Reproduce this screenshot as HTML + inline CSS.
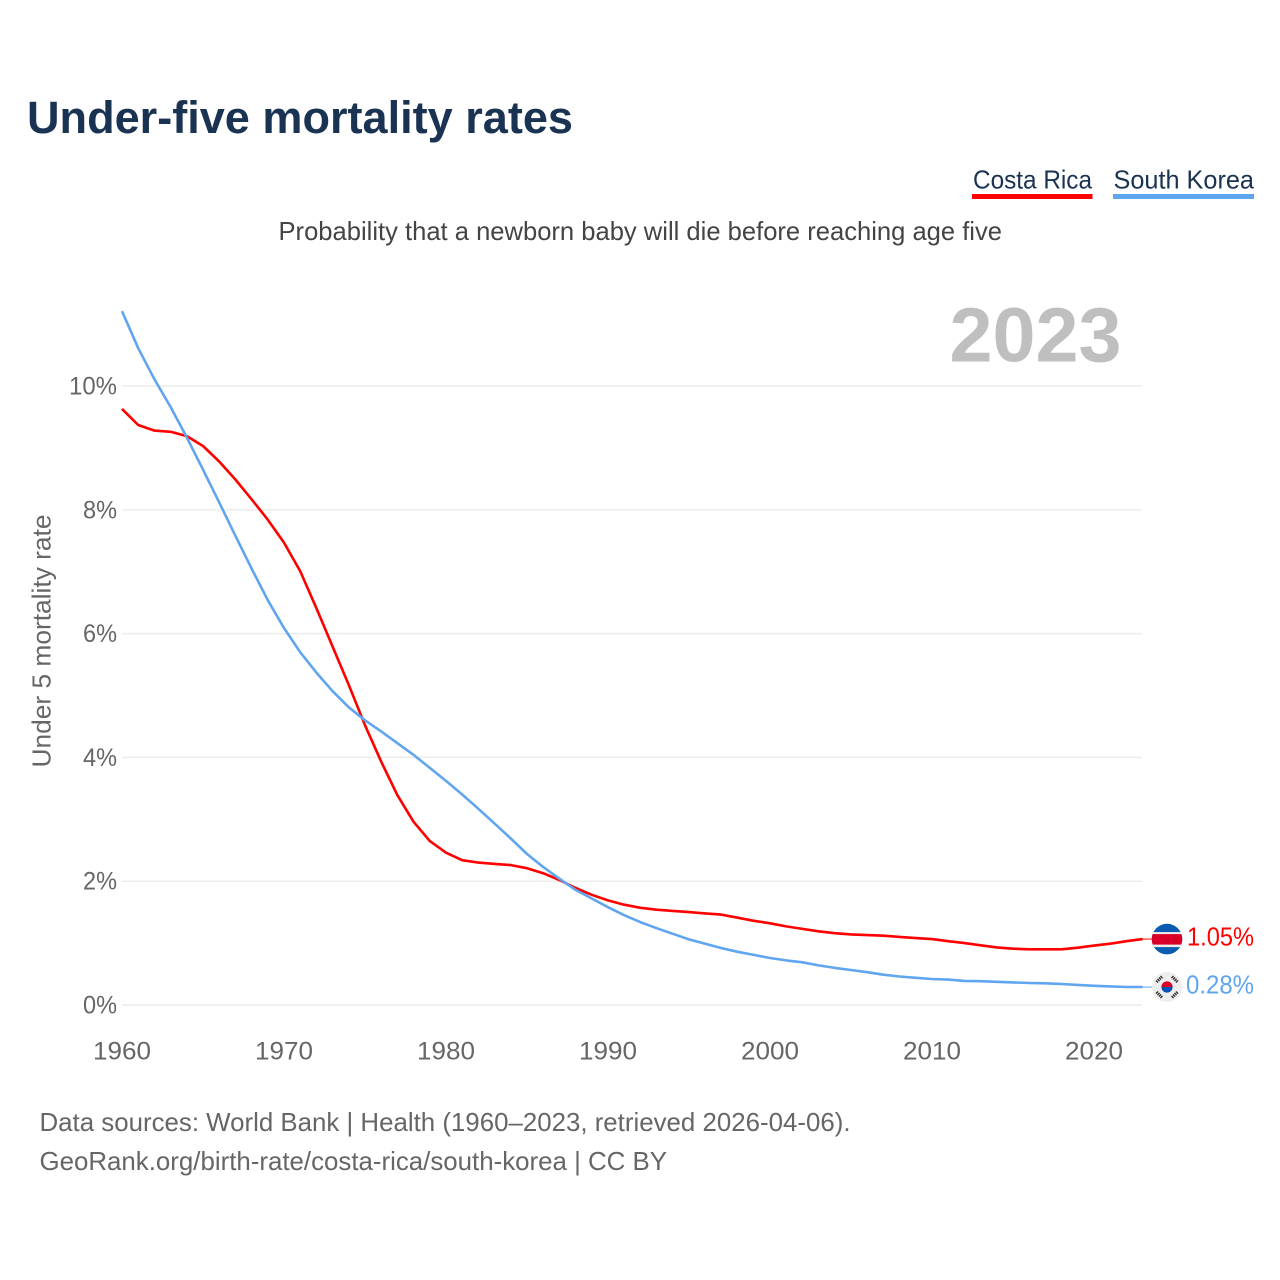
<!DOCTYPE html>
<html lang="en">
<head>
<meta charset="utf-8">
<title>Under-five mortality rates</title>
<style>
html,body{margin:0;padding:0;background:#fff;width:1280px;height:1280px;overflow:hidden}
svg{display:block}
text{font-family:"Liberation Sans",sans-serif}
</style>
</head>
<body>
<svg id="chart" width="1280" height="1280" viewBox="0 0 1280 1280" xmlns="http://www.w3.org/2000/svg">
  <rect width="1280" height="1280" fill="#fff"/>
  <text x="27" y="133" font-size="45" font-weight="700" fill="#1a3353" textLength="546" lengthAdjust="spacingAndGlyphs">Under-five mortality rates</text>
  <g>
    <text x="973" y="188.5" font-size="26" fill="#1a3353" textLength="119" lengthAdjust="spacingAndGlyphs">Costa Rica</text>
    <rect x="972" y="194" width="120.5" height="5" fill="#ff0000"/>
  </g>
  <g>
    <text x="1113.5" y="188.5" font-size="26" fill="#1a3353" textLength="140.5" lengthAdjust="spacingAndGlyphs">South Korea</text>
    <rect x="1113" y="194" width="141" height="5" fill="#60a5ef"/>
  </g>
  <text x="278.5" y="240" font-size="26" fill="#444" textLength="723.5" lengthAdjust="spacingAndGlyphs">Probability that a newborn baby will die before reaching age five</text>
  <g id="grid"></g>
  <text x="949.5" y="361.5" font-size="77" font-weight="700" fill="#bfbfbf" textLength="172" lengthAdjust="spacingAndGlyphs">2023</text>
  <g id="yticks"></g>
  <g id="xticks"></g>
  <text transform="translate(50.5,641) rotate(-90)" text-anchor="middle" font-size="26" fill="#666" textLength="253" lengthAdjust="spacingAndGlyphs">Under 5 mortality rate</text>
  <path id="line-cr" fill="none" stroke="#ff0000" stroke-width="2.6" stroke-linejoin="round"/>
  <path id="line-kr" fill="none" stroke="#60a5ef" stroke-width="2.6" stroke-linejoin="round"/>
  <line id="lead-cr" stroke="#ff0000" stroke-width="1"/>
  <line id="lead-kr" stroke="#60a5ef" stroke-width="1"/>
  <g id="flag-cr">
    <clipPath id="clip-cr"><circle cx="0" cy="0" r="15.3"/></clipPath>
    <g clip-path="url(#clip-cr)">
      <rect x="-16" y="-16" width="32" height="32" fill="#0b5cb0"/>
      <rect x="-16" y="-7" width="32" height="15" fill="#eeeeee"/>
      <rect x="-16" y="-5" width="32" height="10.5" fill="#d80027"/>
    </g>
  </g>
  <g id="flag-kr">
    <circle cx="0" cy="0" r="15" fill="#eeeeee"/>
    <path d="M-5.6 0a5.6 5.6 0 0 1 11.2 0z" fill="#d80027"/>
    <path d="M-5.6 0a5.6 5.6 0 0 0 11.2 0z" fill="#0052b4"/>
    <g stroke="#333" stroke-width="3" stroke-dasharray="1.4 .7">
      <line x1="-10.5" y1="-5" x2="-5" y2="-10.5"/>
      <line x1="5" y1="-10.5" x2="10.5" y2="-5"/>
      <line x1="-10.5" y1="5" x2="-5" y2="10.5"/>
      <line x1="5" y1="10.5" x2="10.5" y2="5"/>
    </g>
  </g>
  <text id="val-cr" x="1187" font-size="26" fill="#ff0000" textLength="67" lengthAdjust="spacingAndGlyphs"></text>
  <text id="val-kr" x="1186" font-size="26" fill="#60a5ef" textLength="68" lengthAdjust="spacingAndGlyphs"></text>
  <text x="39.5" y="1131" font-size="26" fill="#666" textLength="811" lengthAdjust="spacingAndGlyphs">Data sources: World Bank | Health (1960–2023, retrieved 2026-04-06).</text>
  <text x="39.5" y="1170" font-size="26" fill="#666" textLength="627.5" lengthAdjust="spacingAndGlyphs">GeoRank.org/birth-rate/costa-rica/south-korea | CC BY</text>
</svg>
<script>
const startYear = 1960;
const costaRica = [9.63,9.37,9.28,9.26,9.19,9.03,8.78,8.49,8.17,7.84,7.47,7.01,6.41,5.79,5.17,4.52,3.93,3.39,2.96,2.65,2.46,2.34,2.30,2.28,2.26,2.21,2.13,2.02,1.89,1.78,1.69,1.62,1.57,1.54,1.52,1.50,1.48,1.46,1.41,1.36,1.32,1.27,1.23,1.19,1.16,1.14,1.13,1.12,1.10,1.08,1.065,1.03,1.00,0.965,0.93,0.91,0.90,0.90,0.90,0.925,0.96,0.99,1.03,1.065];
const southKorea = [11.21,10.61,10.11,9.66,9.17,8.65,8.12,7.58,7.05,6.54,6.09,5.70,5.37,5.07,4.81,4.60,4.42,4.23,4.04,3.83,3.62,3.40,3.17,2.93,2.69,2.44,2.23,2.04,1.86,1.72,1.58,1.45,1.34,1.24,1.15,1.06,0.99,0.92,0.86,0.81,0.76,0.72,0.69,0.64,0.60,0.565,0.53,0.49,0.46,0.44,0.42,0.41,0.39,0.385,0.375,0.365,0.355,0.35,0.34,0.325,0.31,0.30,0.29,0.29];
const yTickValues = [0,2,4,6,8,10];
const xTickYears = [1960,1970,1980,1990,2000,2010,2020];
const latestLabels = ["1.05%","0.28%"];

const NS = 'http://www.w3.org/2000/svg';
const plotLeft = 122, plotRight = 1142, yearWidth = 16.2, zeroY = 1005, unitY = 61.9;
function xScale(year){ return plotLeft + (year - startYear) * yearWidth; }
function yScale(v){ return zeroY - v * unitY; }
function linePath(values){
  return values.map(function(v, i){
    return (i ? 'L' : 'M') + xScale(startYear + i).toFixed(1) + ' ' + yScale(v).toFixed(1);
  }).join('');
}
const gridG = document.getElementById('grid');
const yG = document.getElementById('yticks');
const xG = document.getElementById('xticks');
yTickValues.forEach(function(v){
  const ln = document.createElementNS(NS, 'line');
  
  
  ln.setAttribute('x1', plotLeft);
  ln.setAttribute('x2', plotRight);
  ln.setAttribute('y1', yScale(v));
  ln.setAttribute('y2', yScale(v));
  ln.setAttribute('stroke', '#ececec');
  ln.setAttribute('stroke-width', '1.5');
  gridG.appendChild(ln);
  const t = document.createElementNS(NS, 'text');
  const label = v + '%';
  
  
  t.setAttribute('x', 117);
  t.setAttribute('y', yScale(v) + 8.5);
  t.setAttribute('text-anchor', 'end');
  t.setAttribute('font-size', '25');
  t.setAttribute('fill', '#666');
  t.setAttribute('textLength', 14 * label.length + 6);
  t.setAttribute('lengthAdjust', 'spacingAndGlyphs');
  t.textContent = label;
  yG.appendChild(t);
});
xTickYears.forEach(function(y){
  const t = document.createElementNS(NS, 'text');
  
  
  t.setAttribute('x', xScale(y));
  t.setAttribute('y', 1059.5);
  t.setAttribute('text-anchor', 'middle');
  t.setAttribute('font-size', '25');
  t.setAttribute('fill', '#666');
  t.setAttribute('textLength', '58');
  t.setAttribute('lengthAdjust', 'spacingAndGlyphs');
  t.textContent = y;
  xG.appendChild(t);
});
document.getElementById('line-cr').setAttribute('d', linePath(costaRica));
document.getElementById('line-kr').setAttribute('d', linePath(southKorea));

function placeEnd(key, values, label){
  const last = values[values.length - 1];
  const y = yScale(last);
  const x = xScale(startYear + values.length - 1);
  const lead = document.getElementById('lead-' + key);
  lead.setAttribute('x1', x); lead.setAttribute('x2', 1152);
  lead.setAttribute('y1', y); lead.setAttribute('y2', y);
  document.getElementById('flag-' + key).setAttribute('transform', 'translate(1167,' + y.toFixed(1) + ')');
  const val = document.getElementById('val-' + key);
  val.setAttribute('y', (y + 6.5).toFixed(1));
  val.textContent = label;
}
placeEnd('cr', costaRica, latestLabels[0]);
placeEnd('kr', southKorea, latestLabels[1]);
</script>
</body>
</html>
